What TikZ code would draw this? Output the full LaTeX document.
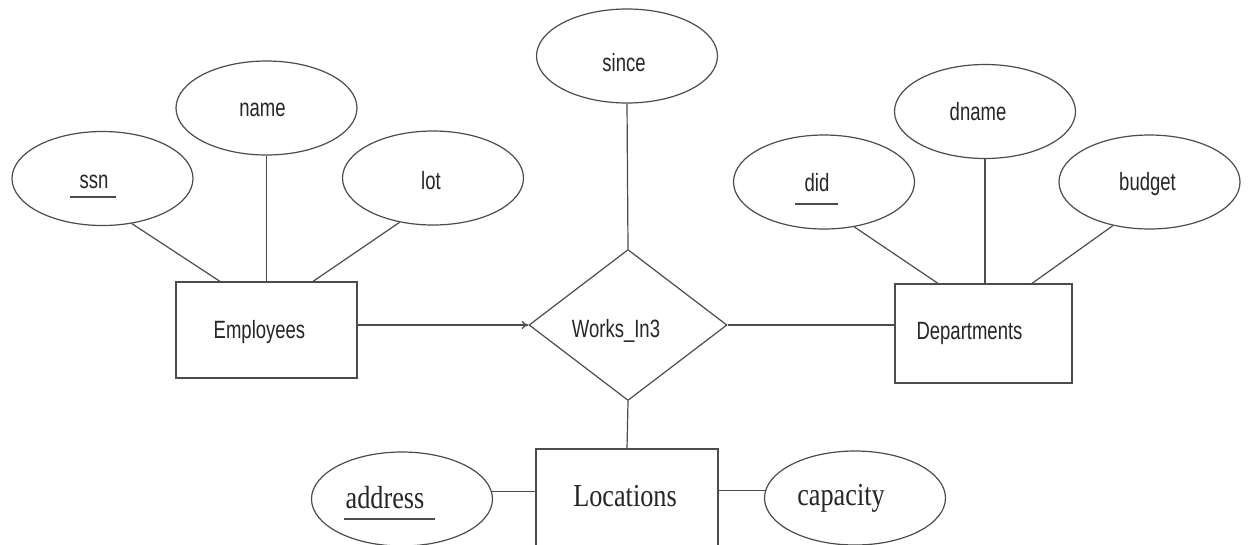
\documentclass[tikz,border=0pt]{standalone}
\usepackage{fontspec}
\usetikzlibrary{shapes.geometric,calc,arrows.meta}
% narrow sans for the upper part, narrow serif for the Locations group
\newfontfamily\ersans[FakeStretch=0.74]{Liberation Sans}
\newfontfamily\erserif[FakeStretch=0.82]{Liberation Serif}
\begin{document}
\begin{tikzpicture}[x=0.75pt,y=-0.75pt,
  ink/.style={draw=black!70,line width=0.9pt},
  link/.style={ink},
  sanstext/.style={text=black!85,font=\ersans\fontsize{18.75pt}{20pt}\selectfont},
  seriftext/.style={text=black!85,font=\erserif\fontsize{24pt}{26pt}\selectfont},
  % caption placed inside a shape, nudged by (dx,dy) in pixel units (dy downwards)
  txt/.style n args={3}{label={[sanstext,inner sep=0pt,xshift={(#1)*0.75pt},yshift={-(#2)*0.75pt}]center:#3}},
  txts/.style n args={3}{label={[seriftext,inner sep=0pt,xshift={(#1)*0.75pt},yshift={-(#2)*0.75pt}]center:#3}},
  attr/.style={ellipse,ink,inner sep=0pt,minimum width=135.75pt,minimum height=70.5pt},
  entity/.style={rectangle,ink,inner sep=0pt,minimum width=135.75pt,minimum height=72pt},
  relship/.style={diamond,ink,inner sep=0pt,minimum width=148.5pt,minimum height=113.25pt}
]
\useasboundingbox (0,0) rectangle (1255,544);
\fill[white] (0,0) rectangle (1255,544);
\clip (0,0) rectangle (1255,544);

% Employees and its attributes
\node[attr,txt={-8.5}{3.5}{ssn}] (ssn) at (102.5,178.5) {};
\node[attr,txt={-4}{2}{name}] (name) at (266.5,108) {};
\node[attr,txt={-2}{3}{lot}] (lot) at (433,178) {};
\node[entity,txt={-7}{2}{Employees}] (emp) at (266.5,330) {};

% relationship
\node[attr,txt={-3}{7}{since}] (since) at (627,56) {};
\node[relship,txt={-12}{6}{Works\_In3}] (rel) at (628,325) {};

% Departments and its attributes
\node[entity,minimum width=132.75pt,minimum height=74.25pt,txt={-14}{0}{Departments}] (dept) at (983.5,333.5) {};
\node[attr,txt={-7}{1}{did}] (did) at (824,182) {};
\node[attr,txt={-7}{0}{dname}] (dname) at (985,111.5) {};
\node[attr,txt={-2}{2}{budget}] (budget) at (1149.5,182) {};

% Locations and its attributes
\node[entity,minimum width=136.5pt,minimum height=73.5pt,txts={-2}{-2}{Locations}] (loc) at (627,498) {};
\node[attr,txts={-17}{-1}{address}] (addr) at (402,499) {};
\node[attr,txts={-14}{0}{capacity}] (cap) at (855,498) {};

% key underlines
\draw[link] ($(ssn.center)+(-32.5,18.5)$) -- ++(46,0);
\draw[link] ($(did.center)+(-29,22)$) -- ++(43,0);
\draw[link] ($(addr.center)+(-58,20)$) -- ++(91,0);

% attribute links
\draw[link] (ssn.-57) -- ($(emp.north)+(-46.5,0)$);
\draw[link] (name.south) -- (name.south |- emp.north);
\draw[link] (lot.-127) -- ($(emp.north)+(46.5,0)$);
\draw[link] (did.-56) -- ($(dept.north)+(-45.5,0)$);
\draw[link] (dname.south) -- (dname.south |- dept.north);
\draw[link] (budget.-130) -- ($(dept.north)+(48.5,0)$);
\draw[link] (addr.5) -- (addr.5 -| loc.west);
\draw[link] (loc.east |- cap.175) -- (cap.175);

% relationship links
\draw[link,-{To[length=5pt,width=6pt]}] (emp.east |- rel.west) -- (rel.west);
\draw[link] (rel.east) -- (rel.east -| dept.west);
\draw[link] (since.south) -- (rel.north);
\draw[link] (rel.south) -- (loc.north);
\end{tikzpicture}
\end{document}
